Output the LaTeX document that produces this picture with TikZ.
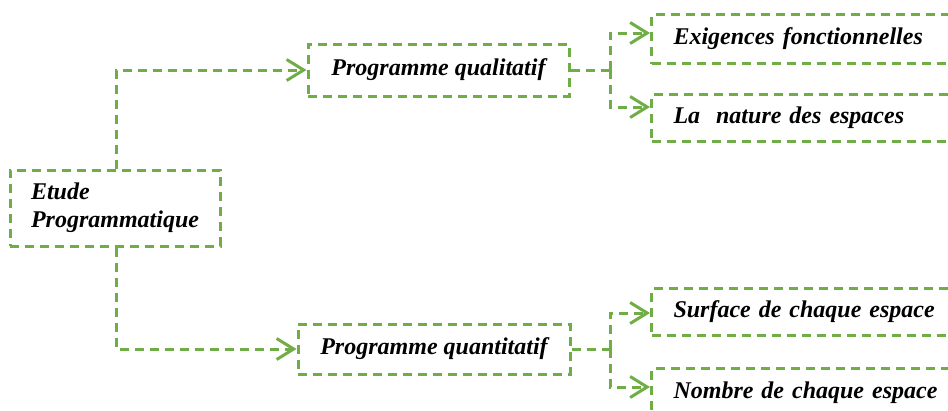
\documentclass[tikz,border=0pt]{standalone}
\usepackage{fontspec}
\setmainfont{Liberation Serif}
\usetikzlibrary{arrows.meta}
\definecolor{gr}{RGB}{112,173,71}
\begin{document}
\begin{tikzpicture}[x=1pt,y=-1pt,
  dsh/.style={draw=gr, line width=3pt, dash pattern=on 9pt off 6pt},
  box/.style={dsh, rectangle, inner xsep=0pt, inner ysep=0pt, font=\fontsize{24}{28}\selectfont\bfseries\itshape},
  conn/.style={dsh},
  arr/.style={dsh, -{Straight Barb[length=17pt,width=21pt,line width=3pt]}},
  every node/.append style={text=black}]
\useasboundingbox (0,0) rectangle (948,410);
\clip (0,0) rectangle (948,410);
% left node
\node[box, minimum width=210pt, minimum height=76pt, text width=168pt, inner xsep=21pt, align=left] (etude) at (115,208) {Etude\\Programmatique};
% middle nodes
\node[box, minimum width=261pt, minimum height=52pt, align=center] (qual) at (438.5,70) {Programme qualitatif};
\node[box, minimum width=272pt, minimum height=50pt, align=center] (quant) at (434,349) {Programme quantitatif};
% right nodes
\node[box, anchor=north west, minimum width=320pt, minimum height=49pt, text width=298pt, inner xsep=22pt, align=left] (exig) at (650,13) {Exigences fonctionnelles};
\node[box, anchor=north west, minimum width=320pt, minimum height=47pt, text width=298pt, inner xsep=22pt, align=left] (nat) at (650,93) {La\ \ nature des espaces};
\node[box, anchor=north west, minimum width=320pt, minimum height=47pt, text width=298pt, inner xsep=22pt, align=left] (surf) at (650,287) {Surface de chaque espace};
\node[box, anchor=north west, minimum width=320pt, minimum height=49pt, text width=298pt, inner xsep=22pt, align=left] (nomb) at (650,367) {Nombre de chaque espace};
% junction coordinates
\coordinate (j1) at (610,70);
\coordinate (j2) at (610,349);
\coordinate (e1) at ([yshift=-20pt]exig.north west);
\coordinate (e2) at ([yshift=-14pt]nat.north west);
\coordinate (e3) at ([yshift=-26pt]surf.north west);
\coordinate (e4) at ([yshift=-20pt]nomb.north west);
% connectors
\draw[arr] ([xshift=1pt]etude.north) |- (qual.west);
\draw[arr] ([xshift=1pt]etude.south) |- (quant.west);
\draw[conn] (qual.east) -- (j1);
\draw[arr] (j1) |- (e1);
\draw[arr] (j1) |- (e2);
\draw[conn] (quant.east) -- (j2);
\draw[arr] (j2) |- (e3);
\draw[arr] (j2) |- (e4);
\end{tikzpicture}
\end{document}
